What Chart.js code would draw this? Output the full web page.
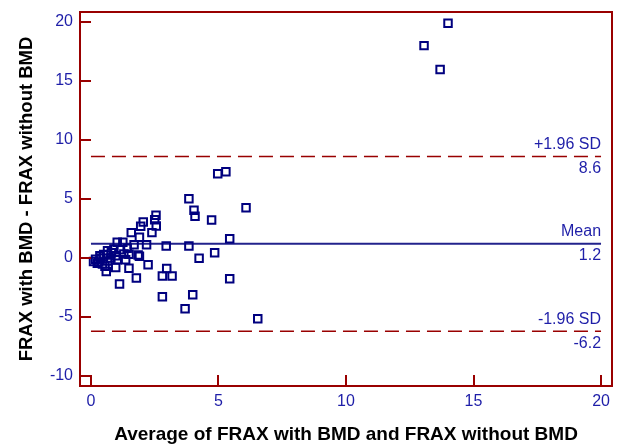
<!DOCTYPE html>
<html><head><meta charset="utf-8">
<script src="https://cdn.jsdelivr.net/npm/chart.js@4.4.1/dist/chart.umd.min.js"></script>
<style>html,body{margin:0;padding:0;background:#fff}#wrap{width:617px;height:444px}</style>
</head><body><div id="wrap"><canvas id="c" width="617" height="444"></canvas></div>
<script>
// Average of FRAX with BMD and FRAX without BMD (x)
const avgValues = [
  0.10, 0.18, 0.30, 0.38, 0.35, 0.50, 0.60, 0.65, 0.65, 0.55, 0.60, 0.78, 0.90, 0.97, 0.97, 1.03, 1.03, 1.16, 1.29, 1.36, 1.25, 1.42, 0.45, 0.80, 0.25,
  1.12, 1.49, 1.49, 1.58, 1.69, 1.78, 1.85, 1.90, 1.90, 1.95, 2.05, 2.18, 2.24, 2.39, 2.50, 2.55, 2.56, 2.95, 2.97, 2.80, 3.18, 2.80,
  3.84, 3.84, 3.69, 3.99, 4.04, 4.08, 4.24, 4.73, 4.85, 4.97, 5.29, 5.44, 5.44, 6.08, 6.54,
  13.06, 13.69, 14.00
];
// FRAX with BMD - FRAX without BMD (y)
const diffValues = [
  -0.30, -0.10, -0.35, 0.00, 0.20, 0.30, 0.25, 0.62, -0.25, -0.70, -1.15, 0.00, 0.76, 0.20, -0.80, -0.15, 1.33, 0.70, 0.34, -0.15, 1.33, 0.82, -0.50, 0.45, -0.45,
  -2.20, 0.31, -0.87, 2.15, 1.13, -1.69, 0.25, 1.75, 0.14, 2.68, 3.05, 1.13, -0.57, 2.15, 3.25, 3.62, 2.71, 1.02, -0.90, -1.53, -1.53, -3.28,
  5.03, 1.02, -4.30, -3.11, 4.04, 3.53, -0.03, 3.22, 0.45, 7.14, 7.31, 1.64, -1.75, 4.26, -5.14,
  18.00, 15.98, 19.90
];
const limitNames = ['+1.96 SD', 'Mean', '-1.96 SD'];
const limitValues = [8.6, 1.2, -6.2];
const limitTexts = ['8.6', '1.2', '-6.2'];
const xTicks = [0, 5, 10, 15, 20];
const yTicks = [-10, -5, 0, 5, 10, 15, 20];
const lineStart = 0, lineEnd = 20;

const FRAME = '#990000';
const NAVY = '#00007f';
const LABEL = '#1e1ea8';
const FONT = '"Liberation Sans", Arial, sans-serif';

const points = avgValues.map((x, i) => ({x: x, y: diffValues[i]}));

function limitDataset(i) {
  const isMean = limitNames[i] === 'Mean';
  return {
    type: 'line',
    data: [{x: lineStart, y: limitValues[i]}, {x: lineEnd, y: limitValues[i]}],
    borderColor: isMean ? '#22228c' : FRAME,
    borderWidth: isMean ? 2 : 1.5,
    borderDash: isMean ? [] : [14, 7],
    pointRadius: 0,
    showLine: true,
    fill: false,
    order: 2
  };
}

const framePlugin = {
  id: 'frame',
  afterDatasetsDraw(chart) {
    const {ctx, chartArea: a, scales: {x, y}} = chart;
    ctx.save();
    ctx.strokeStyle = FRAME;
    ctx.lineWidth = 2;
    ctx.strokeRect(a.left, a.top, a.right - a.left, a.bottom - a.top);
    ctx.beginPath();
    xTicks.forEach(v => { const px = Math.round(x.getPixelForValue(v)); ctx.moveTo(px, a.bottom); ctx.lineTo(px, a.bottom - 11); });
    yTicks.forEach(v => { const py = Math.round(y.getPixelForValue(v)); ctx.moveTo(a.left, py); ctx.lineTo(a.left + 11, py); });
    ctx.stroke();
    // limit labels
    ctx.fillStyle = LABEL;
    ctx.font = '16px ' + FONT;
    ctx.textAlign = 'right';
    ctx.textBaseline = 'middle';
    const rx = x.getPixelForValue(lineEnd);
    limitValues.forEach((v, i) => {
      const py = y.getPixelForValue(v);
      ctx.fillText(limitNames[i], rx, py - 12);
      ctx.fillText(limitTexts[i], rx, py + 12);
    });
    ctx.restore();
  }
};

function noPad(s) {
  s.paddingLeft = 0; s.paddingRight = 0; s.paddingTop = 0; s.paddingBottom = 0;
}

new Chart(document.getElementById('c'), {
  type: 'scatter',
  data: {
    datasets: [
      {
        data: points,
        pointStyle: 'rect',
        pointRadius: 5.3,
        pointBorderWidth: 2,
        borderColor: NAVY,
        backgroundColor: 'rgba(0,0,0,0)',
        order: 1
      },
      limitDataset(0), limitDataset(1), limitDataset(2)
    ]
  },
  options: {
    responsive: false,
    devicePixelRatio: 1,
    animation: false,
    layout: {autoPadding: false, padding: {top: 12, right: 5, left: 0, bottom: 0}},
    plugins: {legend: {display: false}, tooltip: {enabled: false}},
    scales: {
      x: {
        type: 'linear', min: -0.43, max: 20.43,
        afterBuildTicks: s => { s.ticks = xTicks.map(v => ({value: v})); },
        afterFit: s => { s.height = 58; noPad(s); },
        grid: {display: false, drawTicks: false},
        border: {display: false},
        ticks: {color: LABEL, font: {family: FONT, size: 16}, padding: 6, maxRotation: 0, autoSkip: false},
        title: {display: true, text: 'Average of FRAX with BMD and FRAX without BMD', color: '#000',
                font: {family: FONT, size: 19, weight: 'bold', lineHeight: 1}, padding: {top: 0, bottom: 0}}
      },
      y: {
        type: 'linear', min: -10.85, max: 20.85,
        afterBuildTicks: s => { s.ticks = yTicks.map(v => ({value: v})); },
        afterFit: s => { s.width = 80; noPad(s); },
        grid: {display: false, drawTicks: false},
        border: {display: false},
        ticks: {color: LABEL, font: {family: FONT, size: 16}, padding: 7, autoSkip: false},
        title: {display: true, text: 'FRAX with BMD - FRAX without BMD', color: '#000',
                font: {family: FONT, size: 18.5, weight: 'bold', lineHeight: 1}, padding: {top: 18, bottom: 0}}
      }
    }
  },
  plugins: [framePlugin]
});
</script></body></html>
